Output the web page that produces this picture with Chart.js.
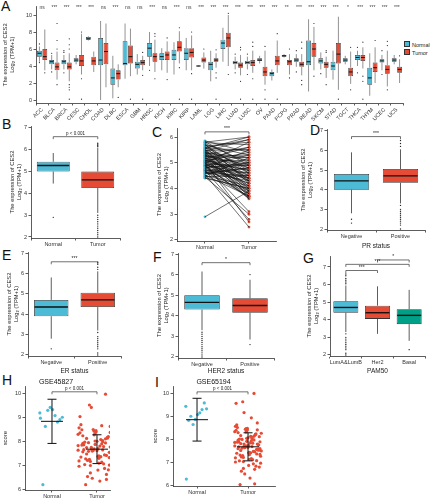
<!DOCTYPE html>
<html>
<head>
<meta charset="utf-8">
<script src="https://cdn.jsdelivr.net/npm/chart.js@4.4.1/dist/chart.umd.min.js"></script>
<style>
  body { margin: 0; width: 430px; height: 500px; position: relative; overflow: hidden; background: #fff; font-family: 'Liberation Sans', Arial, sans-serif; }
  canvas { position: absolute; }
  .tag { position: absolute; font-size: 14px; line-height: 14px; color: #111; }
  .legend { position: absolute; left: 404px; top: 41px; font-size: 5.5px; line-height: 7px; color: #222; }
  .legend span { display: inline-block; width: 4px; height: 4px; border: 0.8px solid #333; margin-right: 2px; vertical-align: -0.5px; }
</style>
</head>
<body>
<div class="tag" style="left:1px;top:-1px">A</div>
<div class="tag" style="left:2px;top:117px">B</div>
<div class="tag" style="left:152px;top:125px">C</div>
<div class="tag" style="left:310px;top:123px">D</div>
<div class="tag" style="left:2px;top:248px">E</div>
<div class="tag" style="left:153px;top:250px">F</div>
<div class="tag" style="left:303px;top:251px">G</div>
<div class="tag" style="left:2px;top:373px">H</div>
<div class="tag" style="left:155px;top:375px">I</div>
<div class="legend">
  <div><span style="background:#4dbbd5"></span>Normal</div>
  <div><span style="background:#e64b35"></span>Tumor</div>
</div>
<script>
// ---- data ----
const cancerTypes = ['ACC','BLCA','BRCA','CESC','CHOL','COAD','DLBC','ESCA','GBM','HNSC','KICH','KIRC','KIRP','LAML','LGG','LIHC','LUAD','LUSC','OV','PAAD','PCPG','PRAD','READ','SKCM','STAD','TGCT','THCA','THYM','UCEC','UCS'];
const panSig = ['ns','***','***','***','***','ns','***','ns','ns','***','ns','***','ns','***','***','***','***','***','***','***','**','***','***','***','***','*','***','***','***','***'];

const normLo  = [4.5,3.6,3.6,4.2,7.0,0.0,0.2,2.5,3.0,4.0,3.5,3.0,3.5,3.9,2.2,4.5,3.6,3.6,4.3,2.3,5.0,3.9,1.0,3.6,2.4,4.2,4.0,0.5,3.5,4.2];
const normQ1  = [5.1,4.2,4.2,4.5,7.1,4.1,1.8,4.1,3.7,5.1,4.7,4.7,4.7,3.95,3.5,6.0,4.2,4.2,4.6,2.8,5.1,4.5,4.1,4.3,3.5,4.5,4.7,1.8,4.4,4.5];
const normMed = [5.5,4.5,4.5,4.7,7.2,4.7,2.6,4.3,4.2,6.1,5.1,5.3,5.5,4.0,4.2,6.7,4.4,4.4,4.7,3.1,5.2,4.7,4.5,4.6,4.0,4.7,5.0,2.6,4.6,4.7];
const normQ3  = [5.8,4.7,4.7,4.9,7.4,7.3,3.7,6.9,4.5,6.7,5.5,5.9,6.1,4.05,4.5,7.1,4.6,4.6,4.9,3.3,5.3,4.9,7.0,4.9,4.5,4.9,5.3,3.8,4.8,4.9];
const normHi  = [6.3,5.3,5.3,5.3,7.5,9.3,5.2,9.0,5.4,8.0,6.1,6.8,7.3,4.1,5.8,8.5,5.1,5.1,5.2,3.6,5.4,5.4,9.5,5.6,5.8,5.2,5.8,5.5,5.3,5.3];
const tumorLo  = [3.5,2.4,2.2,3.0,3.3,1.5,1.5,2.8,3.5,3.3,3.2,4.3,3.5,3.7,3.8,4.0,2.9,3.2,1.8,3.2,3.0,2.9,3.5,2.6,1.2,1.9,3.7,2.0,1.6,2.0];
const tumorQ1  = [4.7,3.5,3.6,4.0,4.1,4.2,2.4,4.3,4.1,4.5,4.7,5.7,5.0,4.4,4.5,6.2,3.8,4.0,2.8,4.1,4.1,3.9,5.1,3.8,4.3,2.8,4.6,3.3,3.1,3.2];
const tumorMed = [5.1,3.9,3.9,4.6,4.6,5.7,3.1,5.1,4.4,5.1,5.3,6.2,5.6,4.7,4.7,7.3,4.1,4.4,3.3,4.6,4.5,4.2,6.0,4.2,5.4,3.3,5.0,3.8,3.6,3.6];
const tumorQ3  = [6.0,4.4,4.4,5.3,5.1,6.7,3.5,6.4,4.7,5.5,5.7,6.9,6.1,5.0,4.9,7.9,4.4,4.7,3.9,5.2,4.7,4.5,6.7,4.5,6.7,3.8,5.3,4.4,4.1,3.9];
const tumorHi  = [8.3,5.7,5.5,7.8,5.7,9.0,4.2,8.4,5.2,7.1,6.9,8.1,7.6,5.6,5.5,10.0,5.3,5.8,5.8,7.0,5.4,5.4,8.6,5.1,9.8,5.7,6.2,6.2,5.8,4.8];
const normOut  = [[6.6,4.4],[3.3,5.5],[3.2,5.6,5.8],[],[],[],[],[],[],[3.5],[],[],[],[],[],[],[3.2,5.4],[3.0,5.4],[],[],[],[3.3,5.8],[],[3.1],[],[],[3.2,6.2],[],[3.0,5.8],[]];
const tumorOut = [[3.2],[6.0,7.0,9.0,1.8],[6.0,6.5,7.2,1.8,1.5,1.2,0.1],[8.0,2.5,0.1],[],[],[0.3],[0.1],[5.6,2.9,0.1],[7.5,7.8,2.5],[7.3,2.4],[8.5,3.8,0.1],[8.0,3.1,0.1],[6.0],[5.9,3.2,2.6,0.1],[10.2,3.0],[5.9,6.2,2.2,0.1],[6.3,6.8,2.5,0.1],[6.3,1.2,0.1],[7.8,0.1],[6.0,2.6],[6.1,6.8,2.3,1.8],[9.0,2.8],[5.6,5.8,1.8],[0.1],[6.2,1.2],[6.8,2.8,2.2,0.1],[7.0],[6.4,6.9,1.2],[5.2]];

// TCGA BRCA boxes: [lo, q1, median, q3, hi]
const tissueGroups = ['Normal', 'Tumor'];
const tissueStats = [[4.45, 5.0, 5.28, 5.45, 5.85], [3.1, 4.25, 4.62, 5.0, 6.1]];
const tissueOut = [[2.9], [6.15,6.2,6.25,6.3,3.0,2.9,2.8,2.7,2.6,2.5,2.4,2.3,2.2,2.1,2.0]];

const pairedNormal = [5.85,5.8,5.75,5.7,5.65,5.6,5.55,5.5,5.5,5.45,5.4,5.4,5.35,5.3,5.3,5.25,5.2,5.2,5.15,5.1,5.1,5.05,5.0,5.0,4.95,4.9,4.9,4.85,4.8,4.75,4.7,4.7,4.65,4.6,4.55,4.5,4.45,4.4,4.9,4.6,5.0,2.9,
    5.82,5.78,5.72,5.68,5.62,5.58,5.52,5.48,5.44,5.42,5.38,5.36,5.33,5.28,5.27,5.23,5.18,5.16,5.12,5.08,5.06,5.03,4.98,4.96,4.93,4.88,4.86,4.83,4.78,4.76,4.72,4.68,4.66,4.62,4.58,4.52,4.48,4.46,4.42,5.55];
const pairedTumor  = [5.4,6.0,5.0,4.6,5.8,4.3,5.5,4.8,3.9,5.9,4.5,5.2,3.7,4.9,4.1,5.3,4.4,3.6,5.6,4.7,4.0,5.1,4.3,3.8,4.9,4.6,3.1,4.2,5.0,3.9,4.4,2.8,3.7,4.5,2.5,4.1,3.0,4.0,3.6,4.8,2.7,3.9,
    4.9,5.7,4.2,5.3,4.7,5.9,4.0,5.5,4.6,3.8,5.1,4.4,5.6,4.8,3.7,5.2,4.3,5.0,4.5,5.4,3.9,4.7,5.8,4.1,4.4,5.3,3.65,4.9,4.2,5.5,4.6,3.8,5.0,4.3,4.8,3.7,5.2,4.5,4.0,6.0];

const statusGroups = ['Negative', 'Positive'];
const prStats = [[2.8, 4.0, 4.45, 4.8, 5.9], [3.3, 4.35, 4.7, 5.05, 6.05]];
const prOut = [[2.5, 2.3], [6.2,6.35,6.5,3.2,3.0,2.9,2.8,2.7,2.6,2.5,2.4,2.3,2.2,2.0]];
const erStats = [[2.8, 3.9, 4.35, 4.7, 5.8], [3.2, 4.35, 4.7, 5.05, 6.1]];
const erOut = [[2.3], [6.2,6.3,6.45,6.55,3.1,2.9,2.8,2.7,2.6,2.5,2.4,2.3,2.1,2.0]];
const her2Stats = [[3.3, 4.3, 4.65, 5.0, 6.15], [2.85, 4.15, 4.5, 4.85, 5.75]];
const her2Out = [[3.2,3.1,3.0,2.9,2.8,2.7,2.6,2.5,2.4,2.3,2.2,2.1,2.0], [6.0, 2.6]];

const pam50Groups = ['LumA&LumB', 'Her2', 'Basal'];
const pam50Stats = [[3.3, 4.4, 4.7, 5.05, 5.95], [3.2, 4.05, 4.4, 4.8, 5.9], [2.8, 3.75, 4.25, 4.6, 5.7]];
const pam50Out = [[6.05,6.15,6.25,6.35,6.5,6.6,3.2,3.0,2.9,2.8,2.7,2.6,2.5,2.4,2.3,2.1,2.0], [], [2.3]];

const gse45827Normal = [9.17,8.99,8.89,8.79,9.06,9.31,9.40,9.28,8.61,6.18,8.95];
const gse45827Tumor = [7.62,8.05,7.31,9.95,7.88,6.79,8.41,7.15,7.73,8.22,6.95,7.54,8.61,7.40,7.97,7.08,8.30,7.66,6.52,7.84,9.02,7.21,7.49,8.12,7.77,6.33,8.38,7.58,7.93,7.02,8.68,7.44,7.70,8.18,6.86,7.35,7.99,7.61,9.50,7.26,8.47,7.81,6.72,7.53,8.09,7.12,7.68,8.26,6.98,7.46,7.90,8.55,7.29,7.75,6.61,8.02,7.38,7.86,9.40,7.19,7.64,8.34,6.90,7.51,8.15,7.05,7.79,8.43,6.45,7.57,7.95,7.33,8.21,7.71,6.80,7.42,8.06,7.60,8.48,7.24,6.18,7.83,8.28,7.48,7.00,7.92,8.64,7.36,7.67,6.67,8.11,7.55,7.17,7.85,8.36,6.40,7.63,7.28,8.00,7.74];
const gse45827Mean = [8.82, 7.66];
const gse45827Sd = [0.92, 0.60];
const gse65194Normal = [9.42,9.31,9.57,9.28,9.14,9.06,8.85,8.63,8.99,8.81,6.26];
const gse65194Tumor = [7.70,8.10,7.35,9.98,7.92,6.85,8.45,7.20,7.80,8.28,7.00,7.58,8.70,7.45,8.02,7.12,8.35,7.68,6.60,7.88,9.55,7.25,7.52,8.18,7.82,6.30,8.40,7.62,7.98,7.05,8.62,7.48,7.75,8.22,6.92,7.40,8.05,7.65,9.62,7.30,8.50,7.85,6.78,7.55,8.12,7.15,7.72,8.30,7.02,7.50,7.95,8.55,7.33,7.78,6.68,8.08,7.42,7.90,9.15,7.22,7.66,8.38,6.95,7.56,8.20,7.10,7.83,8.46,6.48,7.60,8.00,7.38,8.25,7.74,6.82,7.46,8.12,7.64,8.42,7.28,6.02,7.86,8.32,7.52,7.06,7.96,8.92,7.40,7.70,6.72,8.15,7.58,7.18,7.88,8.40,6.05,7.67,7.32,8.03,7.78];
const gse65194Mean = [8.84, 7.66];
const gse65194Sd = [0.93, 0.61];

// ---- setup ----
const BLUE = '#4dbbd5', RED = '#e64b35', GREEN = '#00a087', INK = '#333';
const FONT = "'Liberation Sans', Arial, sans-serif";
Chart.defaults.font.family = FONT;
Chart.defaults.color = '#222';
Chart.defaults.animation = false;
const ces2Title = ['The expression of CES2', 'Log\u2082 (TPM+1)'];

const extras = {
    id: 'extras',
    afterDatasetsDraw(chart, args, o) {
        const ctx = chart.ctx, x = chart.scales.x, y = chart.scales.y;
        const py = v => y.getPixelForValue(v);
        const seg = (x1, y1, x2, y2) => { ctx.beginPath(); ctx.moveTo(x1, y1); ctx.lineTo(x2, y2); ctx.stroke(); };
        ctx.save();
        (o.boxes || []).forEach(b => {
            const el = chart.getDatasetMeta(b.ds).data[b.i];
            const hw = el.width / 2;
            ctx.strokeStyle = o.whisker || INK;
            ctx.lineWidth = o.whiskerWidth || 0.8;
            seg(el.x, py(b.s[3]), el.x, py(b.s[4]));
            seg(el.x, py(b.s[1]), el.x, py(b.s[0]));
            ctx.strokeStyle = '#111';
            ctx.lineWidth = o.medianWidth || 1.4;
            seg(el.x - hw + 0.5, py(b.s[2]), el.x + hw - 0.5, py(b.s[2]));
            ctx.fillStyle = '#222';
            (b.out || []).forEach(v => { ctx.beginPath(); ctx.arc(el.x, py(v), o.dot || 0.7, 0, 2 * Math.PI); ctx.fill(); });
        });
        (o.errorBars || []).forEach(e => {
            const cx = x.getPixelForValue(e.x);
            ctx.strokeStyle = '#111';
            ctx.lineWidth = 1;
            seg(cx - e.half, py(e.mean), cx + e.half, py(e.mean));
            seg(cx, py(e.mean - e.sd), cx, py(e.mean + e.sd));
            seg(cx - e.cap, py(e.mean - e.sd), cx + e.cap, py(e.mean - e.sd));
            seg(cx - e.cap, py(e.mean + e.sd), cx + e.cap, py(e.mean + e.sd));
        });
        ctx.textAlign = 'center';
        ctx.textBaseline = 'bottom';
        (o.brackets || []).forEach(k => {
            const x1 = x.getPixelForValue(k.a), x2 = x.getPixelForValue(k.b), yy = py(k.y);
            ctx.strokeStyle = INK;
            ctx.lineWidth = 0.7;
            ctx.beginPath();
            ctx.moveTo(x1, yy + 2.5); ctx.lineTo(x1, yy); ctx.lineTo(x2, yy); ctx.lineTo(x2, yy + 2.5);
            ctx.stroke();
            ctx.fillStyle = '#222';
            ctx.font = (k.size || 5) + 'px ' + FONT;
            ctx.fillText(k.label, (x1 + x2) / 2, yy - 0.5);
        });
        if (o.topLabels) {
            ctx.fillStyle = '#444';
            ctx.font = '5px ' + FONT;
            o.topLabels.forEach((t, i) => ctx.fillText(t, x.getPixelForValue(i), py(o.topY)));
        }
        ctx.restore();
    }
};

// canvas c = page box, a = plot area in page coords
function frame(c, a, pl) {
    const canvas = document.createElement('canvas');
    canvas.width = c.w;
    canvas.height = c.h;
    canvas.style.left = c.x + 'px';
    canvas.style.top = c.y + 'px';
    canvas.style.width = c.w + 'px';
    canvas.style.height = c.h + 'px';
    document.body.appendChild(canvas);
    return {
        canvas,
        padding: { left: pl, top: a.T - c.y - (a.titleH || 0), right: c.x + c.w - a.R, bottom: 0 },
        yWidth: a.L - c.x - pl,
        xHeight: c.y + c.h - a.B,
    };
}

const axisLook = {
    border: { display: true, color: INK, width: 0.8 },
    grid: { drawOnChartArea: false, drawTicks: true, tickLength: 2.5, color: INK, lineWidth: 0.8 },
};

function yAxis(f, min, max, ticks, title) {
    return {
        type: 'linear', min, max, ...axisLook,
        afterBuildTicks: s => { s.ticks = ticks.map(v => ({ value: v })); },
        afterFit: s => { s.width = f.yWidth; },
        ticks: { font: { size: 5.5 }, padding: 1.5, color: '#333' },
        title: { display: true, text: title, font: { size: 5.8 }, padding: { top: 0, bottom: 2 }, color: '#222' },
    };
}

function xCategory(f, title, rot) {
    return {
        type: 'category', offset: true, ...axisLook,
        afterFit: s => { s.height = f.xHeight; },
        ticks: { font: { size: 5.5 }, padding: 1, color: '#333', maxRotation: rot || 0, minRotation: rot || 0, autoSkip: false },
        title: title ? { display: true, text: title, font: { size: 6.5 }, padding: { top: 0.5, bottom: 0 }, color: '#222' } : { display: false },
    };
}

function xGroups(f, min, max, labels) {
    return {
        type: 'linear', min, max, ...axisLook,
        afterBuildTicks: s => { s.ticks = [{ value: 1 }, { value: 2 }]; },
        afterFit: s => { s.height = f.xHeight; },
        ticks: { font: { size: 5.5 }, padding: 1, color: '#333', callback: v => labels[v - 1] },
    };
}

function baseOptions(f, scales, extraOpts, title) {
    return {
        responsive: false,
        devicePixelRatio: 1,
        animation: false,
        layout: { padding: f.padding },
        plugins: {
            legend: { display: false },
            tooltip: { enabled: false },
            title: title || { display: false },
            extras: extraOpts,
        },
        scales,
    };
}

function boxPanel(c, a, pl, yr, labels, stats, outs, colors, barPct, xTitle, brackets) {
    const f = frame(c, a, pl);
    new Chart(f.canvas, {
        type: 'bar',
        data: {
            labels: labels,
            datasets: [{
                data: stats.map(s => [s[1], s[3]]),
                backgroundColor: colors,
                borderColor: INK,
                borderWidth: 0.8,
                borderSkipped: false,
                barPercentage: barPct,
                categoryPercentage: 1,
            }],
        },
        options: baseOptions(f, {
            x: xCategory(f, xTitle),
            y: yAxis(f, yr[0], yr[1], [2, 3, 4, 5, 6, 7], ces2Title),
        }, {
            boxes: stats.map((s, i) => ({ ds: 0, i, s, out: outs[i] })),
            brackets,
        }),
        plugins: [extras],
    });
}

// ---- A: pan-cancer ----
(function () {
    const f = frame({ x: 0, y: 0, w: 430, h: 122 }, { L: 36, T: 6.5, R: 403, B: 103 }, 2);
    const boxes = [];
    cancerTypes.forEach((t, i) => {
        boxes.push({ ds: 0, i, s: [normLo[i], normQ1[i], normMed[i], normQ3[i], normHi[i]], out: normOut[i] });
        boxes.push({ ds: 1, i, s: [tumorLo[i], tumorQ1[i], tumorMed[i], tumorQ3[i], tumorHi[i]], out: tumorOut[i] });
    });
    const ds = (label, q1, q3, color) => ({
        label, data: q1.map((v, i) => [v, q3[i]]), backgroundColor: color, borderColor: INK,
        borderWidth: 0.7, borderSkipped: false, barPercentage: 0.9, categoryPercentage: 0.88,
    });
    new Chart(f.canvas, {
        type: 'bar',
        data: { labels: cancerTypes, datasets: [ds('Normal', normQ1, normQ3, BLUE), ds('Tumor', tumorQ1, tumorQ3, RED)] },
        options: baseOptions(f, {
            x: xCategory(f, null, 45),
            y: yAxis(f, -0.35, 11, [0, 2, 4, 6, 8, 10], ces2Title),
        }, { boxes, whisker: '#777', whiskerWidth: 0.8, medianWidth: 1, dot: 0.6, topLabels: panSig, topY: 10.55 }),
        plugins: [extras],
    });
})();

// ---- B: normal vs tumor ----
boxPanel({ x: 0, y: 118, w: 145, h: 132 }, { L: 31, T: 126, R: 120, B: 238 }, 9, [1.954, 7.09],
    tissueGroups, tissueStats, tissueOut, [BLUE, RED], 0.74, null,
    [{ a: 0, b: 1, y: 6.6, label: 'p < 0.001', size: 4.5 }]);

// ---- C: paired samples ----
(function () {
    const f = frame({ x: 150, y: 118, w: 140, h: 132 }, { L: 177, T: 128, R: 276, B: 241 }, 6);
    const links = [];
    pairedNormal.forEach((v, i) => {
        links.push({ x: 1, y: v }, { x: 2, y: pairedTumor[i] }, { x: 1.5, y: null });
    });
    new Chart(f.canvas, {
        type: 'scatter',
        data: {
            datasets: [
                { type: 'line', data: links, borderColor: '#111', borderWidth: 0.6, pointRadius: 0, spanGaps: false },
                { data: pairedNormal.map(v => ({ x: 1, y: v })), backgroundColor: BLUE, borderWidth: 0, pointRadius: 1.4 },
                { data: pairedTumor.map(v => ({ x: 2, y: v })), backgroundColor: RED, borderWidth: 0, pointRadius: 1.4 },
            ],
        },
        options: baseOptions(f, {
            x: xGroups(f, 0.364, 2.614, tissueGroups),
            y: yAxis(f, 1.96, 6.35, [2, 3, 4, 5, 6], ces2Title),
        }, { brackets: [{ a: 1, b: 2, y: 6.2, label: '***', size: 5 }] }),
        plugins: [extras],
    });
})();

// ---- D, E, F, G: clinical subgroups ----
boxPanel({ x: 292, y: 118, w: 138, h: 132 }, { L: 327, T: 129.7, R: 425, B: 230 }, 8, [1.95, 7.05],
    statusGroups, prStats, prOut, [BLUE, RED], 0.72, 'PR status',
    [{ a: 0, b: 1, y: 6.7, label: '***' }]);
boxPanel({ x: 0, y: 245, w: 145, h: 130 }, { L: 28, T: 252, R: 121, B: 356 }, 6, [1.95, 7.05],
    statusGroups, erStats, erOut, [BLUE, RED], 0.74, 'ER status',
    [{ a: 0, b: 1, y: 6.57, label: '***' }]);
boxPanel({ x: 150, y: 245, w: 140, h: 130 }, { L: 178, T: 253, R: 274, B: 358 }, 6, [1.95, 7.05],
    statusGroups, her2Stats, her2Out, [BLUE, RED], 0.74, 'HER2 status',
    [{ a: 0, b: 1, y: 6.58, label: '*' }]);
boxPanel({ x: 300, y: 245, w: 130, h: 130 }, { L: 330, T: 256, R: 425, B: 356 }, 6, [1.94, 7.625],
    pam50Groups, pam50Stats, pam50Out, [BLUE, RED, GREEN], 0.79, 'PAM50',
    [{ a: 0, b: 1, y: 6.8, label: '***' }, { a: 0, b: 2, y: 7.15, label: '***' }, { a: 1, b: 2, y: 7.4, label: '*' }]);

// ---- H, I: GEO validation ----
function jitter(i) { return ((i * 37) % 41) / 20 - 1; }
function geoPanel(c, a, xr, yr, name, normal, tumor, mean, sd, spread) {
    const f = frame(c, a, 2);
    new Chart(f.canvas, {
        type: 'scatter',
        data: {
            datasets: [
                { data: normal.map((v, i) => ({ x: 1 + jitter(i) * spread[0], y: v })), backgroundColor: BLUE, borderWidth: 0, pointRadius: 1.6 },
                { data: tumor.map((v, i) => ({ x: 2 + jitter(i) * spread[1], y: v })), backgroundColor: RED, borderWidth: 0, pointRadius: 1.6 },
            ],
        },
        options: baseOptions(f, {
            x: xGroups(f, xr[0], xr[1], tissueGroups),
            y: yAxis(f, yr[0], yr[1], [6, 7, 8, 9, 10], 'score'),
        }, {
            errorBars: [
                { x: 1, mean: mean[0], sd: sd[0], half: 11, cap: 4.5 },
                { x: 2, mean: mean[1], sd: sd[1], half: 11, cap: 4.5 },
            ],
            brackets: [{ a: 1, b: 2, y: 10.05, label: 'p < 0.001', size: 4.5 }],
        }, { display: true, text: name, font: { size: 7, weight: 'normal' }, color: '#111', padding: { top: 0, bottom: 0 } }),
        plugins: [extras],
    });
}
geoPanel({ x: 0, y: 376, w: 150, h: 124 }, { L: 25, T: 386.4, R: 110, B: 490, titleH: 8.4 }, [0.4, 2.289], [5.96, 10.275],
    'GSE45827', gse45827Normal, gse45827Tumor, gse45827Mean, gse45827Sd, [0.27, 0.42]);
geoPanel({ x: 150, y: 376, w: 150, h: 124 }, { L: 173, T: 386.4, R: 275, B: 486, titleH: 8.4 }, [0.529, 2.529], [5.957, 10.287],
    'GSE65194', gse65194Normal, gse65194Tumor, gse65194Mean, gse65194Sd, [0.22, 0.26]);
</script>
</body>
</html>
